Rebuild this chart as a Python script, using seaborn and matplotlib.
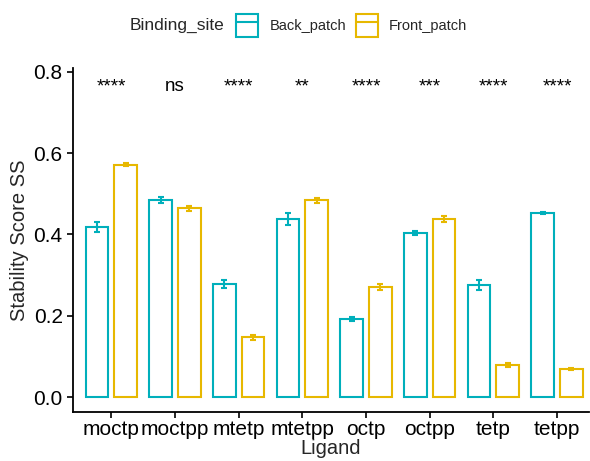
import matplotlib
matplotlib.use("Agg")
import matplotlib.pyplot as plt
from matplotlib.patches import Patch
from matplotlib.lines import Line2D
import seaborn as sns
import pandas as pd

ligands = ["moctp", "moctpp", "mtetp", "mtetpp", "octp", "octpp", "tetp", "tetpp"]
back_mean = [0.418, 0.485, 0.279, 0.439, 0.193, 0.403, 0.276, 0.453]
back_sd = [0.012, 0.008, 0.010, 0.015, 0.005, 0.005, 0.012, 0.003]
front_mean = [0.572, 0.465, 0.147, 0.484, 0.271, 0.438, 0.080, 0.069]
front_sd = [0.003, 0.006, 0.006, 0.006, 0.008, 0.007, 0.005, 0.003]
signif = ["****", "ns", "****", "**", "****", "***", "****", "****"]
sites = ["Back_patch", "Front_patch"]
colors = ["#00AFBB", "#E7B800"]

df = pd.DataFrame({
    "Ligand": ligands * 2,
    "SS": back_mean + front_mean,
    "sd": back_sd + front_sd,
    "Binding_site": [sites[0]] * len(ligands) + [sites[1]] * len(ligands),
})

sns.set_style("ticks")
plt.rcParams["font.family"] = ["Liberation Sans", "DejaVu Sans"]

fig = plt.figure(figsize=(5.9, 4.61), dpi=100)
ax = fig.add_axes([0.124, 0.106, 0.874, 0.746])

sns.barplot(data=df, x="Ligand", y="SS", hue="Binding_site", order=ligands,
            hue_order=sites, palette=colors, width=0.9, gap=0.2, fill=False,
            linewidth=1.5, errorbar=None, legend=False, ax=ax)

# error bars on top of each bar
for cont, site, col in zip(ax.containers, sites, colors):
    sub = df[df["Binding_site"] == site]
    for bar, m, s in zip(cont, sub["SS"], sub["sd"]):
        xc = bar.get_x() + bar.get_width() / 2
        ax.errorbar(xc, m, yerr=s, color=col, capsize=2.5, elinewidth=1.5,
                    capthick=1.5, fmt="none")

for i, lab in enumerate(signif):
    ax.text(i, 0.752, lab, ha="center", va="baseline", fontsize=13.5, color="black")

ax.set_ylim(-0.037, 0.809)
ax.set_xlim(-0.6, 7.5)
ax.set_yticks([0.0, 0.2, 0.4, 0.6, 0.8])
ax.set_yticklabels(["0.0", "0.2", "0.4", "0.6", "0.8"])
ax.tick_params(labelsize=15, colors="black", width=1.2, length=4)
ax.tick_params(axis="x", pad=2)
ax.set_xlabel("Ligand", fontsize=14.5, labelpad=0)
ax.set_ylabel("Stability Score SS", fontsize=14.5, labelpad=3)
for sp in ["left", "bottom"]:
    ax.spines[sp].set_linewidth(1.3)
    ax.spines[sp].set_color("black")
sns.despine(ax=ax)

handles = [(Patch(facecolor="white", edgecolor=c, linewidth=1.5),
            Line2D([], [], color=c, linewidth=1.5)) for c in colors]
fig.text(0.22, 0.945, "Binding_site", fontsize=12.5, va="center", ha="left")
fig.legend(handles, sites, ncol=2, loc="center left", bbox_to_anchor=(0.40, 0.945),
           frameon=False, fontsize=10.5, handlelength=1.5, handleheight=2.1,
           handletextpad=0.8, columnspacing=0.65, borderpad=0, borderaxespad=0)

fig.savefig("out.png", dpi=100)
